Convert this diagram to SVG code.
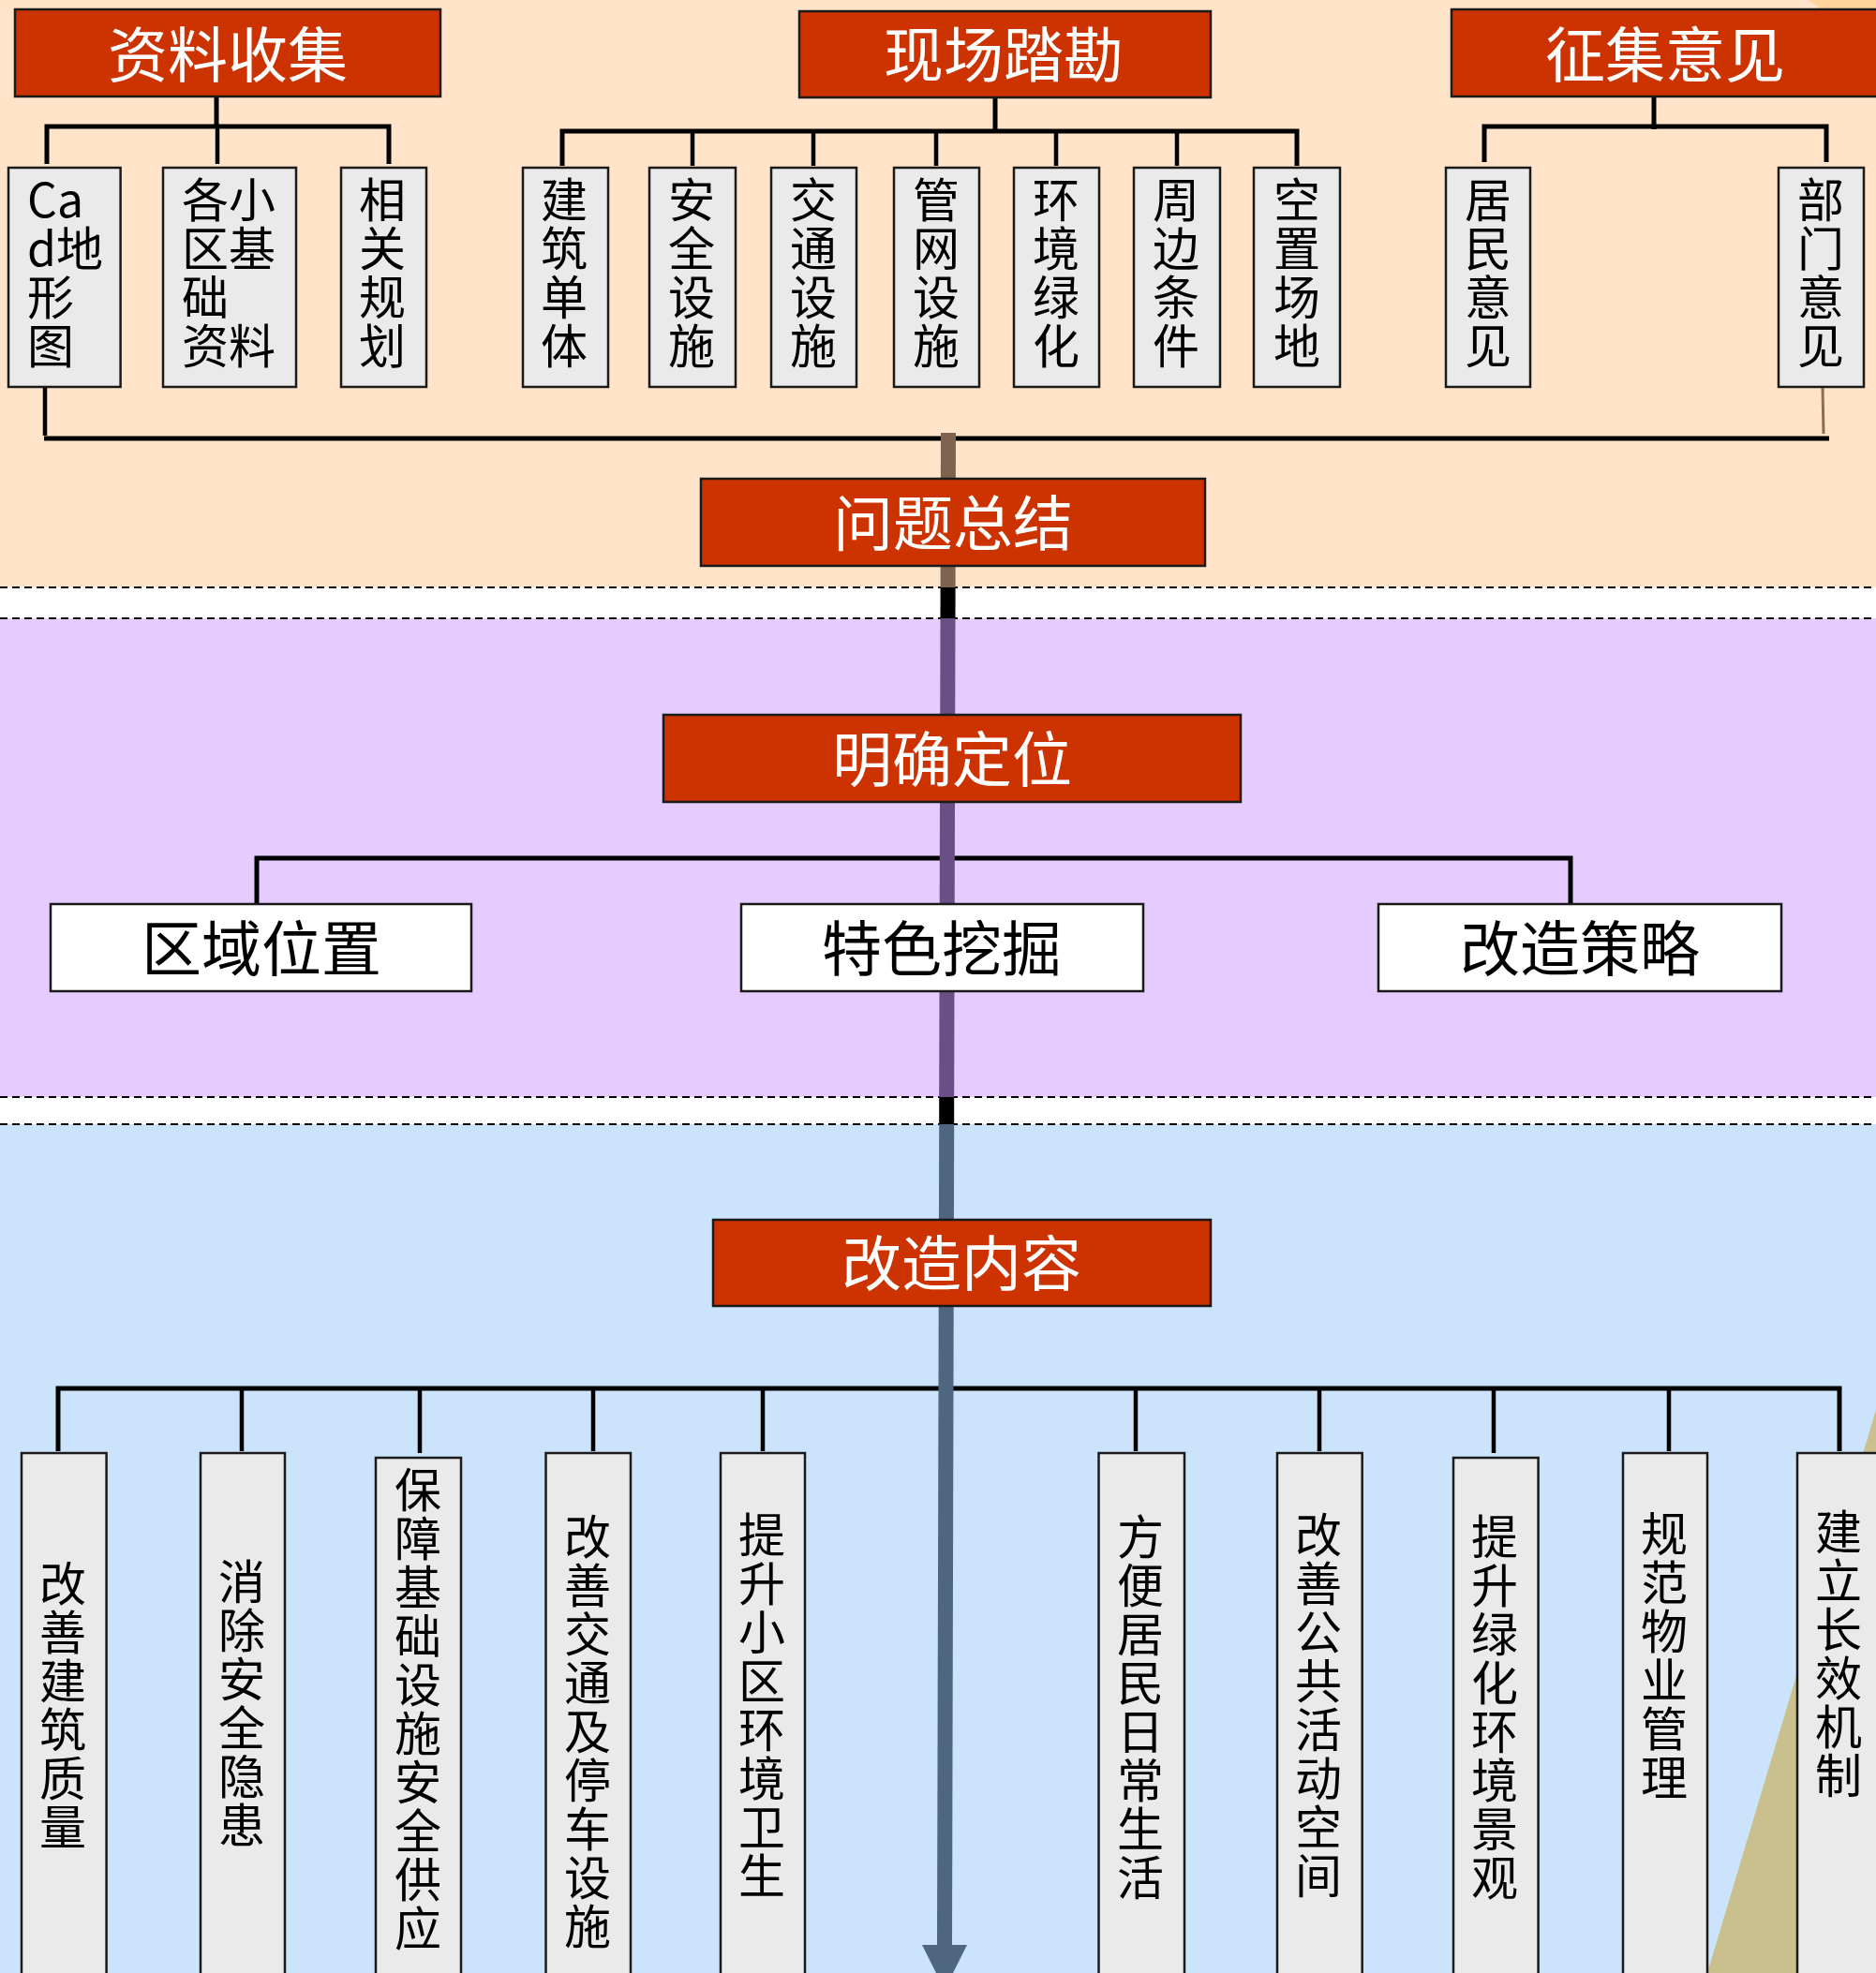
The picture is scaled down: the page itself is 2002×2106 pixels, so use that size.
<svg xmlns="http://www.w3.org/2000/svg" width="2002" height="2106" viewBox="0 0 2002 2106">
<style>
text{font-family:"Noto Sans CJK SC","Noto Sans",sans-serif}
.hdr rect{fill:#CC3300;stroke:#1a1a1a;stroke-width:2.5}
.hdr text{fill:#fff;font-size:64px;text-anchor:middle}
.item rect{fill:#EAEAEA;stroke:#1a1a1a;stroke-width:2.5}
.item text{fill:#000;font-size:50px;text-anchor:start}
.item text.v{writing-mode:vertical-rl;text-orientation:upright;letter-spacing:2px}
.wbox rect{fill:#fff;stroke:#1a1a1a;stroke-width:2.5}
.wbox text{fill:#000;font-size:64px;text-anchor:middle}
.ln{stroke:#000;stroke-width:5;fill:none}
.dr{stroke:#000;stroke-width:4.5;fill:none}
.dash{stroke:#000;stroke-width:2;stroke-dasharray:8 5}
</style>
<g id="background">
<rect x="0" y="0" width="2002" height="627" fill="#FFE4CA"/>
<rect x="0" y="627" width="2002" height="33" fill="#FFFFFF"/>
<rect x="0" y="660" width="2002" height="511" fill="#E5CBFE"/>
<rect x="0" y="1171" width="2002" height="29" fill="#FFFFFF"/>
<rect x="0" y="1200" width="2002" height="906" fill="#CBE4FC"/>
<polygon points="1930,0 2002,0 2002,12 1946,12" fill="#FFD49C"/>
<polygon points="2002,1505 2002,2106 1822,2106" fill="#C9C08E"/>
<line class="dash" x1="0" y1="627" x2="2002" y2="627"/>
<line class="dash" x1="0" y1="660" x2="2002" y2="660"/>
<line class="dash" x1="0" y1="1171" x2="2002" y2="1171"/>
<line class="dash" x1="0" y1="1200" x2="2002" y2="1200"/>
</g>
<g id="connectors">
<path class="ln" d="M231,103 V137"/>
<path class="ln" d="M50,175 V135 H415 V175"/>
<path class="dr" d="M232,135 V175"/>
<path class="ln" d="M1062,104 V140"/>
<path class="ln" d="M600,177 V140 H1384 V177"/>
<path class="dr" d="M739,140 V177 M868,140 V177 M999,140 V177 M1127,140 V177 M1256,140 V177"/>
<path class="ln" d="M1765,103 V138"/>
<path class="ln" d="M1584,173 V135 H1949 V173"/>
<path class="dr" d="M48,413 V465"/>
<line x1="1945" y1="413" x2="1946" y2="463" stroke="#8B6F55" stroke-width="3"/>
<path class="ln" d="M47,468 H1952"/>
<path class="ln" d="M274,965 V916 H1676 V965"/>
<path class="ln" d="M62,1549 V1482 H1963 V1549"/>
<path class="dr" d="M258,1482 V1549 M448,1482 V1551 M633,1482 V1549 M814,1482 V1549 M1212,1482 V1549 M1408,1482 V1549 M1594,1482 V1551 M1781,1482 V1549"/>
<g id="spine">
<polygon points="1004,462 1020,462 1019.6,627 1003.6,627" fill="#7E6450"/>
<polygon points="1003.6,627 1019.6,627 1019.5,660 1003.5,660" fill="#000"/>
<polygon points="1003.5,660 1019.5,660 1018.2,1171 1002.2,1171" fill="#6A4E86"/>
<polygon points="1002.2,1171 1018.2,1171 1018.2,1200 1002.2,1200" fill="#000"/>
<polygon points="1002.2,1200 1018.2,1200 1016,2078 1000,2078" fill="#4E6680"/>
<polygon points="984,2076 1032,2076 1008,2124" fill="#4E6680"/>
</g>
</g>
<g id="n-ziliao" class="hdr"><rect x="16" y="10" width="454" height="93"/><text x="243" y="82">资料收集</text></g>
<g id="n-xianchang" class="hdr"><rect x="853" y="12" width="439" height="92"/><text x="1071" y="82">现场踏勘</text></g>
<g id="n-zhengji" class="hdr"><rect x="1549" y="10" width="470" height="93"/><text x="1777" y="82">征集意见</text></g>

<g id="n-cad" class="item"><rect x="9" y="179" width="119.6" height="234"/><text x="29" y="232"><tspan x="29" y="232">Ca</tspan><tspan x="29" dy="52">d地</tspan><tspan x="29" dy="52">形</tspan><tspan x="29" dy="52">图</tspan></text></g>
<g id="n-gexiaoqu" class="item"><rect x="174" y="179" width="142" height="234"/><text x="194" y="232"><tspan x="194" y="232">各小</tspan><tspan x="194" dy="52">区基</tspan><tspan x="194" dy="52">础</tspan><tspan x="194" dy="52">资料</tspan></text></g>
<g id="n-xiangguan" class="item"><rect x="364" y="179" width="91" height="234"/><text class="v" x="408" y="188">相关规划</text></g>
<g id="n-jianzhu" class="item"><rect x="558" y="179" width="91" height="234"/><text class="v" x="602" y="188">建筑单体</text></g>
<g id="n-anquan" class="item"><rect x="693" y="179" width="92" height="234"/><text class="v" x="738" y="188">安全设施</text></g>
<g id="n-jiaotong" class="item"><rect x="823" y="179" width="91" height="234"/><text class="v" x="868" y="188">交通设施</text></g>
<g id="n-guanwang" class="item"><rect x="954" y="179" width="91" height="234"/><text class="v" x="999" y="188">管网设施</text></g>
<g id="n-huanjing" class="item"><rect x="1082" y="179" width="91" height="234"/><text class="v" x="1127" y="188">环境绿化</text></g>
<g id="n-zhoubian" class="item"><rect x="1210" y="179" width="92" height="234"/><text class="v" x="1255" y="188">周边条件</text></g>
<g id="n-kongzhi" class="item"><rect x="1338" y="179" width="92" height="234"/><text class="v" x="1384" y="188">空置场地</text></g>
<g id="n-jumin" class="item"><rect x="1543" y="179" width="90" height="234"/><text class="v" x="1588" y="188">居民意见</text></g>
<g id="n-bumen" class="item"><rect x="1898" y="179" width="91" height="234"/><text class="v" x="1943" y="188">部门意见</text></g>

<g id="n-wenti" class="hdr"><rect x="748" y="511" width="538" height="93"/><text x="1017" y="582">问题总结</text></g>
<g id="n-mingque" class="hdr"><rect x="708" y="763" width="616" height="93"/><text x="1016" y="834">明确定位</text></g>
<g id="n-quyu" class="wbox"><rect x="54" y="965" width="449" height="93"/><text x="279" y="1036">区域位置</text></g>
<g id="n-tese" class="wbox"><rect x="791" y="965" width="429" height="93"/><text x="1005" y="1036">特色挖掘</text></g>
<g id="n-celue" class="wbox"><rect x="1471" y="965" width="430" height="93"/><text x="1686" y="1036">改造策略</text></g>

<g id="n-neirong" class="hdr"><rect x="761" y="1302" width="531" height="92"/><text x="1026" y="1372">改造内容</text></g>

<g id="n-b1" class="item"><rect x="23" y="1551" width="90.6" height="570"/><text class="v" x="67" y="1665">改善建筑质量</text></g>
<g id="n-b2" class="item"><rect x="214" y="1551" width="90" height="570"/><text class="v" x="258" y="1663">消除安全隐患</text></g>
<g id="n-b3" class="item"><rect x="401" y="1556" width="91" height="565"/><text class="v" x="446" y="1565">保障基础设施安全供应</text></g>
<g id="n-b4" class="item"><rect x="582.5" y="1551" width="90.5" height="570"/><text class="v" x="627" y="1615">改善交通及停车设施</text></g>
<g id="n-b5" class="item"><rect x="769" y="1551" width="90" height="570"/><text class="v" x="813" y="1613">提升小区环境卫生</text></g>
<g id="n-b6" class="item"><rect x="1172.5" y="1551" width="91.5" height="570"/><text class="v" x="1217" y="1615">方便居民日常生活</text></g>
<g id="n-b7" class="item"><rect x="1363" y="1551" width="90.7" height="570"/><text class="v" x="1407" y="1613">改善公共活动空间</text></g>
<g id="n-b8" class="item"><rect x="1551" y="1556" width="90.6" height="565"/><text class="v" x="1595" y="1615">提升绿化环境景观</text></g>
<g id="n-b9" class="item"><rect x="1732" y="1551" width="90" height="570"/><text class="v" x="1776" y="1612">规范物业管理</text></g>
<g id="n-b10" class="item"><rect x="1918" y="1551" width="91" height="570"/><text class="v" x="1962" y="1610">建立长效机制</text></g>
</svg>
